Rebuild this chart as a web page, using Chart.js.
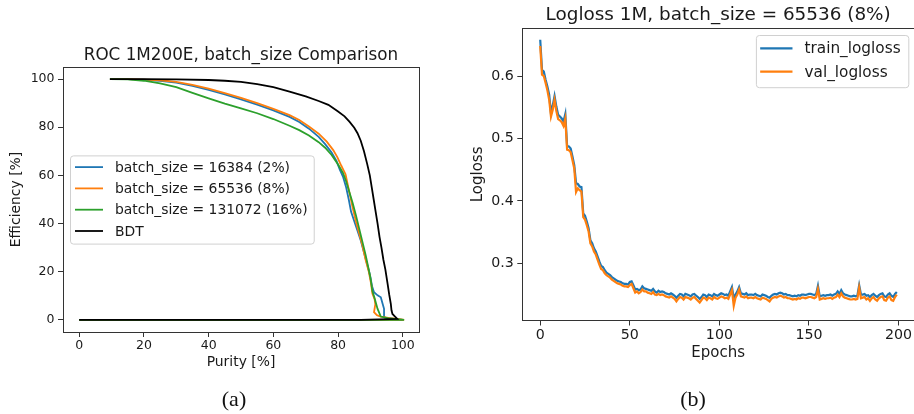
<!DOCTYPE html>
<html>
<head>
<meta charset="utf-8">
<script src="https://cdn.jsdelivr.net/npm/chart.js@4.4.1/dist/chart.umd.min.js"></script>
<style>
  body { margin: 0; background: #fff; }
  #wrap { position: relative; width: 914px; height: 414px; overflow: hidden; }
  canvas { position: absolute; top: 0; }
  #roc { left: 0; }
  #loss { left: 457px; }
  .caption { position: absolute; font-family: "Liberation Serif", "DejaVu Serif", serif; font-size: 22px; color: #111; transform: translate(-50%, -50%); }
</style>
</head>
<body>
<div id="wrap">
  <canvas id="roc" width="457" height="414"></canvas>
  <canvas id="loss" width="457" height="414"></canvas>
  <div class="caption" style="left:234px; top:399px">(a)</div>
  <div class="caption" style="left:693px; top:399px">(b)</div>
</div>
<script>
// ROC curves, purity [%] vs efficiency [%]
const purityTicks = [0, 20, 40, 60, 80, 100]
const efficiencyTicks = [0, 20, 40, 60, 80, 100]

const bs16384Purity = [0, 100, 96, 94.2, 94.2, 93.8, 93.2, 92.2, 91.1, 90.5, 89.8, 89, 88, 87, 86, 85, 84, 83.3, 82.5, 81.5, 80.5, 79.5, 78, 76, 74, 71, 68, 65, 60, 55, 50, 45, 40, 35, 30, 25, 20, 15, 9.5]
const bs16384Eff = [0, 0, 0.6, 1.1, 4.6, 6.5, 9.4, 10.2, 11.5, 14, 19, 23, 28, 33, 37, 41, 45, 50, 55, 59.5, 62.5, 66, 69.5, 73, 76, 79.4, 82.2, 84.3, 87, 89.4, 91.6, 93.6, 95.5, 97.2, 98.5, 99.3, 99.7, 100, 100]

const bs65536Purity = [0, 100.4, 98.4, 96, 93.2, 92, 91.1, 91.5, 91.3, 90.6, 90.2, 89.5, 88.5, 87.5, 86.5, 85.5, 84.6, 83.8, 83, 82.3, 81, 79.8, 78.5, 76.5, 74, 71, 68, 65, 60, 55, 50, 45, 40, 35, 30, 25, 20, 15, 9.5]
const bs65536Eff = [0, 0, 0.4, 0.8, 1.4, 2, 3.2, 6.5, 8.5, 11, 15, 20, 25, 31, 36, 41, 46, 51, 56, 60.5, 64, 67.5, 70.5, 74, 77.3, 80.3, 83, 85, 87.6, 90, 92.2, 94.2, 96, 97.6, 98.8, 99.5, 99.8, 100, 100]

const bs131072Purity = [0, 100.4, 96, 93.2, 92.2, 91.2, 90.6, 90, 89.3, 88.5, 87.5, 86.5, 85.5, 84.5, 83.5, 82.5, 81.5, 80, 78, 76, 74, 71, 68, 65, 60, 55, 50, 45, 40, 35, 30, 25, 20, 15, 9.5]
const bs131072Eff = [0, 0, 0.6, 1.4, 4.6, 9.4, 12, 17.5, 22, 27, 32.5, 38, 43.5, 48.5, 53, 57.5, 61, 64.5, 68.5, 71.5, 73.8, 76.6, 78.8, 80.6, 83.4, 85.8, 87.8, 89.8, 92, 94.3, 96.6, 98.2, 99.3, 99.9, 100]

const bdtPurity = [0, 87, 98.3, 97.3, 96.8, 96.5, 96.3, 95.8, 95.3, 94.6, 94, 93.4, 92.8, 92.2, 91.6, 91, 90.4, 89.8, 89, 88, 87, 86, 85, 83.5, 82, 80, 77, 74, 70, 65, 60, 55, 50, 45, 40, 30, 20, 9.5]
const bdtEff = [0, 0, 0.4, 1.8, 2.5, 4, 6.6, 10.5, 15, 21, 25, 30, 34.5, 40, 45, 50, 55, 60, 64.7, 70, 74.4, 77.5, 79.8, 82.3, 84.5, 86.5, 89.3, 90.9, 92.8, 94.8, 96.6, 97.9, 98.8, 99.3, 99.6, 99.9, 100, 100]

// logloss per epoch, batch_size = 65536
const epochTicks = [0, 50, 100, 150, 200]
const loglossTicks = [0.3, 0.4, 0.5, 0.6]

const trainLogloss = [
  0.658, 0.610, 0.607, 0.594, 0.583, 0.570, 0.540, 0.553, 0.568, 0.551,
  0.538, 0.535, 0.532, 0.527, 0.539, 0.488, 0.487, 0.484, 0.471, 0.457,
  0.428, 0.427, 0.423, 0.422, 0.380, 0.376, 0.367, 0.356, 0.337, 0.332,
  0.324, 0.319, 0.311, 0.303, 0.296, 0.294, 0.289, 0.285, 0.283, 0.281,
  0.278, 0.276, 0.274, 0.272, 0.271, 0.270, 0.268, 0.267, 0.267, 0.266,
  0.270, 0.271, 0.265, 0.258, 0.259, 0.257, 0.258, 0.263, 0.260, 0.259,
  0.258, 0.257, 0.256, 0.259, 0.255, 0.253, 0.256, 0.254, 0.255, 0.254,
  0.252, 0.251, 0.250, 0.252, 0.250, 0.248, 0.245, 0.248, 0.251, 0.250,
  0.247, 0.251, 0.250, 0.249, 0.247, 0.250, 0.251, 0.248, 0.246, 0.243,
  0.246, 0.250, 0.249, 0.246, 0.250, 0.249, 0.247, 0.251, 0.249, 0.248,
  0.250, 0.252, 0.251, 0.249, 0.250, 0.248, 0.255, 0.262, 0.244, 0.250,
  0.255, 0.262, 0.252, 0.251, 0.250, 0.252, 0.249, 0.250, 0.250, 0.249,
  0.251, 0.249, 0.248, 0.247, 0.250, 0.249, 0.248, 0.246, 0.245, 0.248,
  0.250, 0.251, 0.250, 0.252, 0.253, 0.252, 0.250, 0.251, 0.249, 0.249,
  0.248, 0.247, 0.248, 0.247, 0.249, 0.248, 0.250, 0.250, 0.249, 0.250,
  0.251, 0.251, 0.250, 0.249, 0.251, 0.264, 0.247, 0.248, 0.249, 0.248,
  0.249, 0.249, 0.250, 0.248, 0.250, 0.251, 0.255, 0.251, 0.257, 0.252,
  0.250, 0.249, 0.248, 0.247, 0.247, 0.248, 0.247, 0.248, 0.265, 0.250,
  0.250, 0.251, 0.248, 0.249, 0.246, 0.249, 0.251, 0.248, 0.246, 0.249,
  0.251, 0.252, 0.247, 0.246, 0.250, 0.252, 0.248, 0.246, 0.251, 0.254
]
const valLogloss = [
  0.648, 0.602, 0.600, 0.589, 0.577, 0.562, 0.535, 0.546, 0.562, 0.544,
  0.531, 0.529, 0.526, 0.520, 0.532, 0.482, 0.481, 0.478, 0.465, 0.452,
  0.414, 0.420, 0.417, 0.415, 0.374, 0.370, 0.361, 0.351, 0.332, 0.327,
  0.319, 0.314, 0.306, 0.298, 0.291, 0.289, 0.284, 0.281, 0.279, 0.277,
  0.274, 0.272, 0.270, 0.268, 0.267, 0.266, 0.264, 0.263, 0.263, 0.262,
  0.265, 0.267, 0.260, 0.253, 0.255, 0.252, 0.254, 0.258, 0.255, 0.255,
  0.253, 0.252, 0.251, 0.254, 0.250, 0.249, 0.251, 0.249, 0.250, 0.249,
  0.247, 0.246, 0.245, 0.247, 0.245, 0.243, 0.239, 0.243, 0.246, 0.245,
  0.242, 0.246, 0.245, 0.244, 0.242, 0.245, 0.246, 0.243, 0.240, 0.237,
  0.241, 0.245, 0.244, 0.241, 0.245, 0.244, 0.242, 0.246, 0.244, 0.243,
  0.245, 0.247, 0.246, 0.244, 0.245, 0.243, 0.250, 0.257, 0.232, 0.245,
  0.250, 0.258, 0.247, 0.246, 0.245, 0.247, 0.244, 0.245, 0.245, 0.244,
  0.246, 0.244, 0.243, 0.242, 0.245, 0.244, 0.243, 0.241, 0.239, 0.243,
  0.245, 0.246, 0.245, 0.247, 0.248, 0.247, 0.245, 0.246, 0.244, 0.244,
  0.243, 0.242, 0.243, 0.242, 0.244, 0.243, 0.245, 0.245, 0.244, 0.245,
  0.246, 0.246, 0.245, 0.244, 0.246, 0.259, 0.242, 0.243, 0.244, 0.243,
  0.244, 0.244, 0.245, 0.243, 0.245, 0.246, 0.250, 0.246, 0.252, 0.247,
  0.245, 0.244, 0.243, 0.242, 0.242, 0.243, 0.242, 0.243, 0.261, 0.244,
  0.245, 0.246, 0.242, 0.244, 0.240, 0.244, 0.246, 0.242, 0.240, 0.244,
  0.246, 0.247, 0.241, 0.240, 0.245, 0.247, 0.241, 0.240, 0.246, 0.250
]
const epochs = trainLogloss.map((v, i) => i)

const BLUE = '#1f77b4'
const ORANGE = '#ff7f0e'
const GREEN = '#2ca02c'
const AXIS = '#333'
const TEXT = '#1a1a1a'
const FONT = '"DejaVu Sans", sans-serif'

function toPoints(xs, ys) {
  return xs.map((x, i) => ({x: x, y: ys[i]}))
}

// matplotlib-like legend box drawn inside the plot area
const boxLegend = {
  id: 'boxLegend',
  afterDatasetsDraw(chart, args, o) {
    const ctx = chart.ctx
    const area = chart.chartArea
    const sets = chart.data.datasets
    ctx.save()
    ctx.font = o.fontSize + 'px ' + FONT
    const textW = Math.max(...sets.map(d => ctx.measureText(d.label).width))
    const w = o.padLeft + o.handle + o.gap + textW + o.padRight
    const h = o.padTop + o.rowGap * (sets.length - 1) + o.padBottom
    let x, y
    if (o.loc === 'center left') {
      x = area.left + o.insetX
      y = (area.top + area.bottom) / 2 - h / 2
    } else {
      x = area.right - o.insetX - w
      y = area.top + o.insetY
    }
    ctx.beginPath()
    ctx.roundRect(x + 0.5, y + 0.5, w, h, 3)
    ctx.fillStyle = 'rgba(255,255,255,0.8)'
    ctx.fill()
    ctx.strokeStyle = '#d0d0d0'
    ctx.lineWidth = 1
    ctx.stroke()
    ctx.textBaseline = 'middle'
    ctx.textAlign = 'left'
    sets.forEach((d, i) => {
      const cy = y + o.padTop + i * o.rowGap
      ctx.beginPath()
      ctx.moveTo(x + o.padLeft, cy)
      ctx.lineTo(x + o.padLeft + o.handle, cy)
      ctx.strokeStyle = d.borderColor
      ctx.lineWidth = d.borderWidth
      ctx.stroke()
      ctx.fillStyle = TEXT
      ctx.fillText(d.label, x + o.padLeft + o.handle + o.gap, cy + 1)
    })
    ctx.restore()
  }
}

// closed frame round the plot area
const frame = {
  id: 'frame',
  afterDraw(chart) {
    const ctx = chart.ctx
    const a = chart.chartArea
    ctx.save()
    ctx.strokeStyle = AXIS
    ctx.lineWidth = 1
    ctx.strokeRect(Math.round(a.left) + 0.5, Math.round(a.top) + 0.5, Math.round(a.right - a.left), Math.round(a.bottom - a.top))
    ctx.restore()
  }
}

function axis(min, max, ticks, title, size, titleSize, fixed, isX, fmt, pad) {
  return {
    type: 'linear',
    min: min,
    max: max,
    afterBuildTicks: s => { s.ticks = ticks.map(v => ({value: v})) },
    afterFit: s => { if (isX) s.height = fixed; else s.width = fixed },
    border: {display: false},
    grid: {drawOnChartArea: false, drawTicks: true, tickLength: 5, color: AXIS, lineWidth: 1},
    ticks: {color: TEXT, font: {family: FONT, size: size}, padding: pad, maxRotation: 0, callback: fmt},
    title: {display: true, text: title, color: TEXT, font: {family: FONT, size: titleSize}, padding: {top: 0, bottom: 0}}
  }
}

const rocSets = [
  {label: 'batch_size = 16384 (2%)', data: toPoints(bs16384Purity, bs16384Eff), borderColor: BLUE, order: 4},
  {label: 'batch_size = 65536 (8%)', data: toPoints(bs65536Purity, bs65536Eff), borderColor: ORANGE, order: 3},
  {label: 'batch_size = 131072 (16%)', data: toPoints(bs131072Purity, bs131072Eff), borderColor: GREEN, order: 2},
  {label: 'BDT', data: toPoints(bdtPurity, bdtEff), borderColor: '#000', order: 1}
]
rocSets.forEach(d => { d.showLine = true; d.borderWidth = 1.8; d.pointRadius = 0; d.tension = 0; d.fill = false })

new Chart(document.getElementById('roc'), {
  type: 'scatter',
  data: {datasets: rocSets},
  options: {
    responsive: false,
    animation: false,
    devicePixelRatio: 1,
    layout: {autoPadding: false, padding: {left: 8.3, right: 38, top: 0, bottom: 43.3}},
    scales: {
      x: axis(-5, 105, purityTicks, 'Purity [%]', 12.5, 13.9, 38.7, true, v => v, 1.5),
      y: axis(-5, 105, efficiencyTicks, 'Efficiency [%]', 12.5, 13.9, 54.7, false, v => v, 3.5)
    },
    plugins: {
      legend: {display: false},
      tooltip: {enabled: false},
      title: {display: true, text: 'ROC 1M200E, batch_size Comparison', fullSize: false, color: TEXT,
        font: {family: FONT, size: 16.8, weight: 'normal'}, padding: {top: 46, bottom: 0.84}},
      boxLegend: {loc: 'center left', fontSize: 13.9, insetX: 7, insetY: 0, padLeft: 5, handle: 28, gap: 12,
        padRight: 6, padTop: 11.7, rowGap: 21.3, padBottom: 12.6}
    }
  },
  plugins: [boxLegend, frame]
})

new Chart(document.getElementById('loss'), {
  type: 'line',
  data: {
    labels: epochs,
    datasets: [
      {label: 'train_logloss', data: trainLogloss, borderColor: BLUE, borderWidth: 2.2, pointRadius: 0, order: 2},
      {label: 'val_logloss', data: valLogloss, borderColor: ORANGE, borderWidth: 2.2, pointRadius: 0, order: 1}
    ]
  },
  options: {
    responsive: false,
    animation: false,
    devicePixelRatio: 1,
    layout: {autoPadding: false, padding: {left: 12, right: 0, top: 0, bottom: 51.7}},
    scales: {
      x: axis(-10, 208.6, epochTicks, 'Epochs', 14.2, 15, 41.8, true, v => v, 1.5),
      y: axis(0.2084, 0.6764, loglossTicks, 'Logloss', 14.2, 15, 53.3, false, v => v.toFixed(1), 3.5)
    },
    plugins: {
      legend: {display: false},
      tooltip: {enabled: false},
      title: {display: true, text: 'Logloss 1M, batch_size = 65536 (8%)', fullSize: false, color: TEXT,
        font: {family: FONT, size: 18.4, weight: 'normal'}, padding: {top: 3.96, bottom: 2.26}},
      boxLegend: {loc: 'upper right', fontSize: 15.3, insetX: 5.7, insetY: 6.7, padLeft: 4.3, handle: 32.3, gap: 12,
        padRight: 7.7, padTop: 13.3, rowGap: 23.3, padBottom: 15.6}
    }
  },
  plugins: [boxLegend, frame]
})
</script>
</body>
</html>
